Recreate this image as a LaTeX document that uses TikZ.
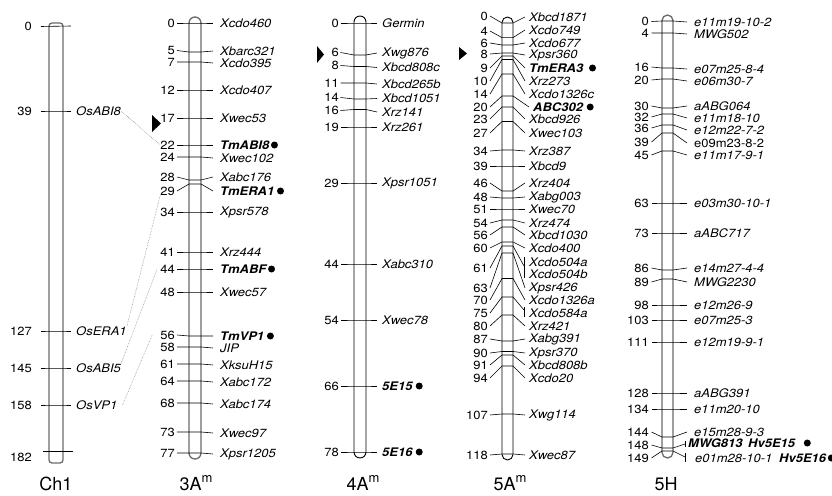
\documentclass[tikz,border=0pt]{standalone}
\usepackage{fontspec}
\setmainfont{TeX Gyre Heros}[FakeStretch=1.1]
\newfontfamily\labfont{TeX Gyre Heros}
\usetikzlibrary{calc}
\definecolor{chrgray}{rgb}{0.42,0.42,0.42}
\newcommand{\fs}{\fontsize{11.8}{13}\selectfont}
% marker: [style]{id}{number}{y label}{y bar}{y name}{name}
\newcommand{\mkr}[7][mk]{%
  \node[num] (n#2) at (\xn,#4) {#3};
  \node[#1] (m#2) at (\xm,#6) {#7};
  \draw[tick] ([xshift=\ga]n#2.east) -- (\xL,#5) -- (\xR,#5) -- ([xshift=-\gb]m#2.west);
}
\newcommand{\bul}[2]{\node[dot] (d#1) at ([xshift=#2]m#1.east) {};}
\tikzset{
  num/.style={anchor=east, inner sep=0pt, font=\fs},
  mk/.style={anchor=west, inner sep=0pt, font=\fs\itshape},
  mkb/.style={anchor=west, inner sep=0pt, font=\fs\bfseries\itshape},
  mku/.style={anchor=west, inner sep=0pt, font=\fs\upshape},
  tick/.style={draw=black, line width=0.6pt},
  dot/.style={circle, fill=black, inner sep=0pt, minimum size=7pt},
  chrg/.style={draw=chrgray, line width=1.3pt, fill=white},
  chrb/.style={draw=black, line width=0.9pt, fill=white},
  conn/.style={draw=gray, line width=0.5pt, dash pattern=on 0.6pt off 1pt},
  lab/.style={anchor=base, inner sep=0pt, font=\labfont\fontsize{18}{20}\selectfont},
  tri/.style={fill=black}
}
\begin{document}
\begin{tikzpicture}[x=1pt,y=-1pt]
\useasboundingbox (0,0) rectangle (832,495);

% ---------- chromosome bars ----------
\draw[chrg, rounded corners=3pt] (49,23) rectangle (63,463);
\draw[chrg, rounded corners=6pt] (189,17) rectangle (201,459);
\draw[chrb, rounded corners=6pt] (354,16) rectangle (366,458);
\draw[chrb, rounded corners=5.5pt] (502,17) rectangle (513,460);
\draw[chrg, rounded corners=5.5pt] (662,15) rectangle (673,458);

% ---------- Ch1 ----------
\def\xn{32}\def\ga{9}\def\xL{49}\def\xR{63}\def\xm{76}\def\gb{5}
\node[num] (ne0) at (32,26.5) {0};
\draw[tick] ([xshift=9]ne0.east) -- (71,26);
\mkr{e39}{39}{111}{111}{111}{OsABI8}
\mkr{e127}{127}{331}{331}{331}{OsERA1}
\mkr{e145}{145}{368}{368}{368}{OsABI5}
\mkr{e158}{158}{405}{405}{405}{OsVP1}
\node[num] (ne182) at (32,457) {182};
\draw[tick] (43,451) -- (73,451);

% ---------- 3A^m ----------
\def\xn{175}\def\ga{2}\def\xL{189}\def\xR{201}\def\xm{220}\def\gb{7}
\mkr{a0}{0}{23}{23}{23}{Xcdo460}
\mkr{a5}{5}{50.5}{52}{51}{Xbarc321}
\mkr{a7}{7}{62}{62}{63}{Xcdo395}
\mkr{a12}{12}{90}{90}{90}{Xcdo407}
\mkr{a17}{17}{118}{118}{118}{Xwec53}
\mkr[mkb]{a22}{22}{145}{145}{145}{TmABI8}
\mkr{a24}{24}{157}{157}{158}{Xwec102}
\mkr{a28}{28}{177}{180}{177}{Xabc176}
\mkr[mkb]{a29}{29}{191}{184}{191}{TmERA1}
\mkr{a34}{34}{212}{212}{212}{Xpsr578}
\mkr{a41}{41}{252}{252}{252}{Xrz444}
\mkr[mkb]{a44}{44}{269}{269}{269}{TmABF}
\mkr{a48}{48}{292}{292}{292}{Xwec57}
\mkr[mkb]{a56}{56}{335}{336}{336}{TmVP1}
\mkr{a58}{58}{347}{347}{348}{JIP}
\mkr{a61}{61}{364}{364}{365}{XksuH15}
\mkr{a64}{64}{381}{381}{382}{Xabc172}
\mkr{a68}{68}{403}{403}{404}{Xabc174}
\mkr{a73}{73}{432}{432}{433}{Xwec97}
\mkr{a77}{77}{453}{453}{454}{Xpsr1205}
\bul{a22}{5}\bul{a29}{6}\bul{a44}{5}\bul{a56}{6}

% ---------- 4A^m ----------
\def\xn{339}\def\ga{1.5}\def\xL{354}\def\xR{366}\def\xm{382}\def\gb{5}
\mkr{b0}{0}{23}{23}{23}{Germin}
\mkr{b6}{6}{52.5}{55}{53}{Xwg876}
\mkr{b8}{8}{65.5}{66.5}{67.5}{Xbcd808c}
\mkr{b11}{11}{83}{83}{84}{Xbcd265b}
\mkr{b14}{14}{97.5}{99}{98.5}{Xbcd1051}
\mkr{b16}{16}{110.5}{109.5}{112}{Xrz141}
\mkr{b19}{19}{127}{127}{127}{Xrz261}
\mkr{b29}{29}{183}{183}{183}{Xpsr1051}
\mkr{b44}{44}{264}{264}{264}{Xabc310}
\mkr{b54}{54}{320}{320}{320}{Xwec78}
\mkr[mkb]{b66}{66}{386}{386}{386}{5E15}
\mkr[mkb]{b78}{78}{452}{452}{452}{5E16}
\bul{b66}{6.5}\bul{b78}{6.5}

% ---------- 5A^m ----------
\def\xn{488}\def\ga{2}\def\xL{502}\def\xR{513}\def\xm{529}\def\gb{4}
\mkr{c0}{0}{16}{23}{17}{Xbcd1871}
\mkr{c4}{4}{31}{37.6}{30}{Xcdo749}
\mkr{c6}{6}{43}{45}{43}{Xcdo677}
\mkr{c8}{8}{54}{53}{55}{Xpsr360}
\mkr[mkb]{c9}{9}{68}{56}{68}{TmERA3}
\mkr{c10}{10}{81}{59.5}{81}{Xrz273}
\mkr{c14}{14}{94}{74}{94}{Xcdo1326c}
\def\xm{533}
\mkr[mkb]{c20}{20}{107}{96}{107}{ABC302}
\def\xm{529}
\mkr{c23}{23}{119}{107}{119}{Xbcd926}
\mkr{c27}{27}{133}{121.5}{133}{Xwec103}
\mkr{c34}{34}{151}{150}{151}{Xrz387}
\mkr{c39}{39}{166}{166}{166}{Xbcd9}
\mkr{c46}{46}{183}{191}{183}{Xrz404}
\mkr{c48}{48}{197}{198}{197}{Xabg003}
\mkr{c51}{51}{209}{209}{209}{Xwec70}
\mkr{c54}{54}{223}{220}{223}{Xrz474}
\mkr{c56}{56}{235}{227}{235}{Xbcd1030}
\mkr{c60}{60}{248}{242}{248}{Xcdo400}
% 61: two markers on one locus
\node[num] (nc61) at (488,268) {61};
\node[mk] (mc61a) at (529,262) {Xcdo504a};
\node[mk] (mc61b) at (529,274) {Xcdo504b};
\draw[tick] ([xshift=2]nc61.east) -- (502,246) -- (513,246) -- (524,266);
\draw[tick] (524.5,257) -- (524.5,278);
\mkr{c63}{63}{288}{253}{288}{Xpsr426}
\mkr{c70}{70}{300}{278.5}{300}{Xcdo1326a}
\node[num] (nc75) at (488,313) {75};
\node[mk] (mc75) at (529,313) {Xcdo584a};
\draw[tick] ([xshift=2]nc75.east) -- (502,297) -- (513,297) -- (524,310);
\draw[tick] (524.5,307) -- (524.5,317);
\mkr{c80}{80}{326}{315}{326}{Xrz421}
\mkr{c87}{87}{339}{341}{339}{Xabg391}
\mkr{c90}{90}{353}{351.5}{353}{Xpsr370}
\mkr{c91}{91}{365}{355}{365}{Xbcd808b}
\mkr{c94}{94}{378}{366}{378}{Xcdo20}
\mkr{c107}{107}{415}{414}{415}{Xwg114}
\mkr{c118}{118}{455}{454}{455}{Xwec87}
\bul{c9}{9}\bul{c20}{7}

% ---------- 5H ----------
\def\xn{649}\def\ga{2.5}\def\xL{662}\def\xR{673}\def\xm{694}\def\gb{7}
\mkr{d0}{0}{21.5}{21}{22}{e11m19-10-2}
\mkr{d4}{4}{33}{33}{34}{MWG502}
\mkr{d16}{16}{67}{68}{69}{e07m25-8-4}
\mkr{d20}{20}{80}{79}{81}{e06m30-7}
\mkr{d30}{30}{106}{108}{106}{aABG064}
\mkr{d32}{32}{117}{114}{118}{e11m18-10}
\mkr{d36}{36}{128}{125}{130}{e12m22-7-2}
\mkr[mku]{d39}{39}{142}{133}{143}{e09m23-8-2}
\mkr{d45}{45}{155}{151}{155}{e11m17-9-1}
\mkr{d63}{63}{203}{203}{203}{e03m30-10-1}
\mkr{d73}{73}{233}{233}{233}{aABC717}
\mkr{d86}{86}{268}{270}{268}{e14m27-4-4}
\mkr{d89}{89}{282}{279}{282}{MWG2230}
\mkr{d98}{98}{305}{305}{305}{e12m26-9}
\mkr{d103}{103}{320}{320}{320}{e07m25-3}
\mkr{d111}{111}{342}{342}{342}{e12m19-9-1}
\mkr{d128}{128}{393}{393}{393}{aABG391}
\mkr{d134}{134}{409}{409}{409}{e11m20-10}
\mkr{d144}{144}{432}{437}{432}{e15m28-9-3}
\node[num] (nd148) at (649,445) {148};
\node[mkb] (md148) at (688,443) {MWG813};
\node[mkb] (md148b) at (748,443) {Hv5E15};
\draw[tick] ([xshift=2.5]nd148.east) -- (662,448) -- (673,448) -- (685,444);
\draw[tick] (685.5,441) -- (685.5,447);
\node[num] (nd149) at (649,458) {149};
\node[mk] (md149) at (695,458) {e01m28-10-1};
\node[mkb] (md149b) at (779,458) {Hv5E16};
\draw[tick] ([xshift=2.5]nd149.east) -- (662,451) -- (673,451) -- (685,457);
\draw[tick] (685.5,453) -- (685.5,462);
\bul{d148b}{12}\bul{d149b}{5}

% ---------- homology connectors ----------
\draw[conn] (me39.east) -- (na22.west);
\draw[conn] (me127.north east) -- (na29.south west);
\draw[conn] (me145.north east) -- ([xshift=-3]na44.west);
\draw[conn] ([xshift=5]me158.east) -- ([xshift=-8]na56.west);

% ---------- triangles ----------
\fill[tri] (152,115) -- (152,132) -- (161,123.5) -- cycle;
\fill[tri] (317,46) -- (317,63) -- (324,54.5) -- cycle;
\fill[tri] (459,47) -- (459,60) -- (467,53.5) -- cycle;

% ---------- chromosome names ----------
\node[lab] (lch1) at (56,490) {Ch1};
\node[lab] (l3a) at (196,490) {3A\raisebox{7.5pt}{\fontsize{13}{13}\selectfont m}};
\node[lab] (l4a) at (363,490) {4A\raisebox{7.5pt}{\fontsize{13}{13}\selectfont m}};
\node[lab] (l5a) at (510,490) {5A\raisebox{7.5pt}{\fontsize{13}{13}\selectfont m}};
\node[lab] (l5h) at (666,490) {5H};
\end{tikzpicture}
\end{document}
